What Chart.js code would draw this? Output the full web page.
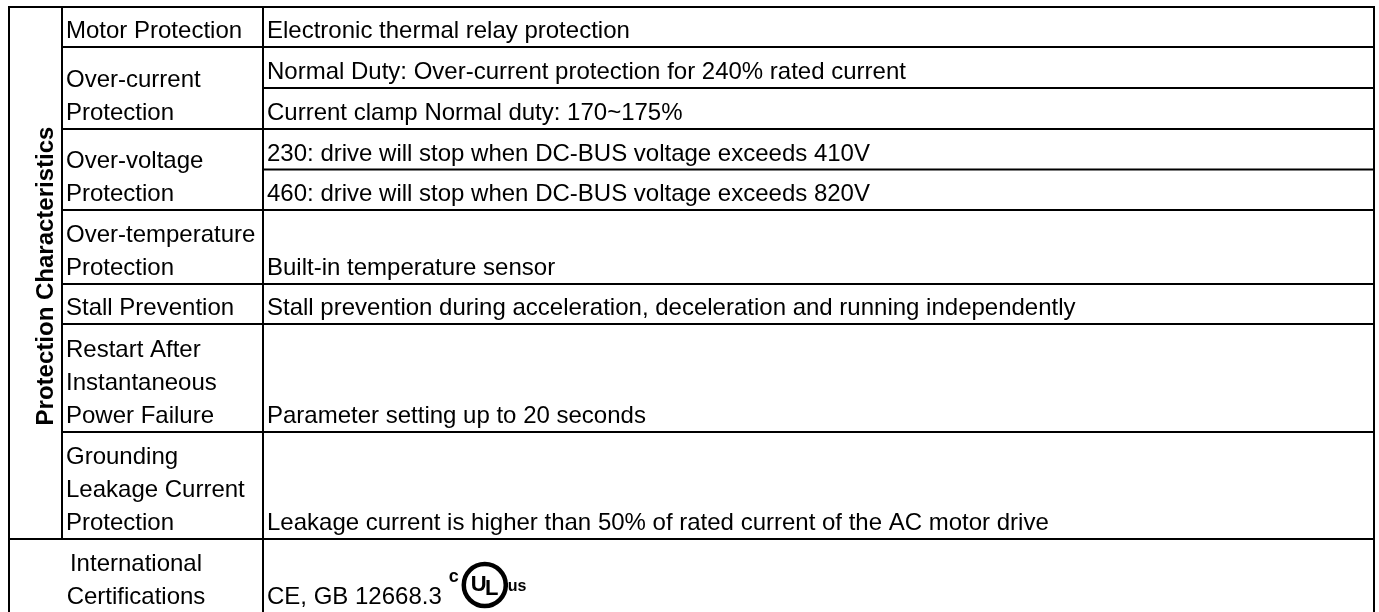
<!DOCTYPE html>
<html>
<head>
<meta charset="utf-8">
<script src="https://cdn.jsdelivr.net/npm/chart.js"></script>
<style>
html, body { margin: 0; padding: 0; background: #fff; }
#wrap { width: 1379px; height: 612px; }
</style>
</head>
<body>
<div id="wrap"><canvas id="spec-table"></canvas></div>
<script>
var groupTitle = 'Protection Characteristics';
var itemNames = [
    ['Motor Protection'],
    ['Over-current', 'Protection'],
    ['Over-voltage', 'Protection'],
    ['Over-temperature', 'Protection'],
    ['Stall Prevention'],
    ['Restart After', 'Instantaneous', 'Power Failure'],
    ['Grounding', 'Leakage Current', 'Protection'],
    ['International', 'Certifications']
];
var itemDetails = [
    ['Electronic thermal relay protection'],
    ['Normal Duty: Over-current protection for 240% rated current', 'Current clamp Normal duty: 170~175%'],
    ['230: drive will stop when DC-BUS voltage exceeds 410V', '460: drive will stop when DC-BUS voltage exceeds 820V'],
    ['Built-in temperature sensor'],
    ['Stall prevention during acceleration, deceleration and running independently'],
    ['Parameter setting up to 20 seconds'],
    ['Leakage current is higher than 50% of rated current of the AC motor drive'],
    ['CE, GB 12668.3']
];
// rows in the protection group, the last row is outside it
var groupRows = 7;
var certMark = ['c', 'UL', 'us'];

// layout, sheet units = px
var colEdges = [9, 62, 263, 1374];
var tableTop = 7;
var rowHeights = [40, 82, 81, 74, 40, 108, 107, 74];
var lineGap = 33;
var padBottom = 9;
var padLeft = 4;
var FONT = '"Liberation Sans", Arial, Helvetica, sans-serif';

function rowEdges() {
    var edges = [tableTop];
    rowHeights.forEach(function (h) {
        edges.push(edges[edges.length - 1] + h);
    });
    return edges;
}

var tablePlugin = {
    id: 'specTable',
    afterDraw: function (chart) {
        var ctx = chart.ctx;
        var sx = chart.scales.x, sy = chart.scales.y;
        var X = function (v) { return sx.getPixelForValue(v); };
        var Y = function (v) { return sy.getPixelForValue(v); };
        var edges = rowEdges();
        var bottom = edges[edges.length - 1];
        var groupBottom = edges[groupRows];

        ctx.save();
        ctx.strokeStyle = '#000';
        ctx.lineWidth = 2;
        ctx.lineCap = 'square';
        function hline(x0, x1, y) {
            ctx.beginPath();
            ctx.moveTo(X(x0), Y(y));
            ctx.lineTo(X(x1), Y(y));
            ctx.stroke();
        }
        function vline(x, y0, y1) {
            ctx.beginPath();
            ctx.moveTo(X(x), Y(y0));
            ctx.lineTo(X(x), Y(y1));
            ctx.stroke();
        }

        // grid
        hline(colEdges[0], colEdges[3], tableTop);
        for (var r = 1; r < edges.length; r++) {
            var x0 = r < groupRows ? colEdges[1] : colEdges[0];
            hline(x0, colEdges[3], edges[r]);
        }
        itemDetails.forEach(function (d, i) {
            var h = (edges[i + 1] - edges[i]) / d.length;
            for (var k = 1; k < d.length; k++) {
                hline(colEdges[2], colEdges[3], edges[i] + h * k);
            }
        });
        vline(colEdges[0], tableTop, bottom);
        vline(colEdges[1], tableTop, groupBottom);
        vline(colEdges[2], tableTop, bottom);
        vline(colEdges[3], tableTop, bottom);

        // texts
        ctx.fillStyle = '#000';
        ctx.textBaseline = 'alphabetic';
        ctx.font = '24px ' + FONT;
        itemNames.forEach(function (lines, i) {
            var base = edges[i + 1] - padBottom;
            lines.forEach(function (t, k) {
                var y = base - (lines.length - 1 - k) * lineGap;
                if (i < groupRows) {
                    ctx.textAlign = 'left';
                    ctx.fillText(t, X(colEdges[1] + padLeft), Y(y));
                } else {
                    ctx.textAlign = 'center';
                    ctx.fillText(t, X((colEdges[0] + colEdges[2]) / 2), Y(y));
                }
            });
        });
        ctx.textAlign = 'left';
        itemDetails.forEach(function (d, i) {
            var h = (edges[i + 1] - edges[i]) / d.length;
            d.forEach(function (t, k) {
                var y = edges[i] + h * (k + 1) - padBottom;
                ctx.fillText(t, X(colEdges[2] + padLeft), Y(y));
            });
        });

        // group title, rotated
        ctx.save();
        ctx.font = 'bold 24px ' + FONT;
        ctx.translate(X(53), Y((tableTop + groupBottom) / 2 + 3));
        ctx.rotate(-Math.PI / 2);
        ctx.textAlign = 'center';
        ctx.fillText(groupTitle, 0, 0);
        ctx.restore();

        // cUL us mark after the certification text
        var last = itemDetails.length - 1;
        var certY = edges[last + 1] - padBottom;
        ctx.font = '24px ' + FONT;
        var endX = colEdges[2] + padLeft + ctx.measureText(itemDetails[last][0]).width;
        var cx = endX + 43, cy = certY - 19;
        ctx.font = 'bold 18px ' + FONT;
        ctx.textAlign = 'center';
        ctx.fillText(certMark[0], X(endX + 12), Y(certY - 22));
        ctx.lineWidth = 4.5;
        ctx.beginPath();
        ctx.ellipse(X(cx), Y(cy), 21, 21, 0, 0, Math.PI * 2);
        ctx.stroke();
        ctx.font = 'bold 22px ' + FONT;
        ctx.fillText(certMark[1][0], X(cx - 6), Y(cy + 6));
        ctx.fillText(certMark[1][1], X(cx + 7), Y(cy + 10));
        ctx.font = 'bold 16px ' + FONT;
        ctx.textAlign = 'left';
        ctx.fillText(certMark[2], X(cx + 23), Y(cy + 6));
        ctx.restore();
    }
};

var tctx = document.getElementById('spec-table');
if (tctx != null) {
    var specChart = new Chart(tctx.getContext('2d'), {
        type: 'scatter',
        data: { datasets: [{ data: [] }] },
        options: {
            responsive: true,
            maintainAspectRatio: false,
            animation: false,
            layout: { padding: 0 },
            plugins: { legend: { display: false }, tooltip: { enabled: false } },
            scales: {
                x: { type: 'linear', min: 0, max: 1379, display: false },
                y: { type: 'linear', min: 0, max: 612, reverse: true, display: false }
            }
        },
        plugins: [tablePlugin]
    });
}
</script>
</body>
</html>
